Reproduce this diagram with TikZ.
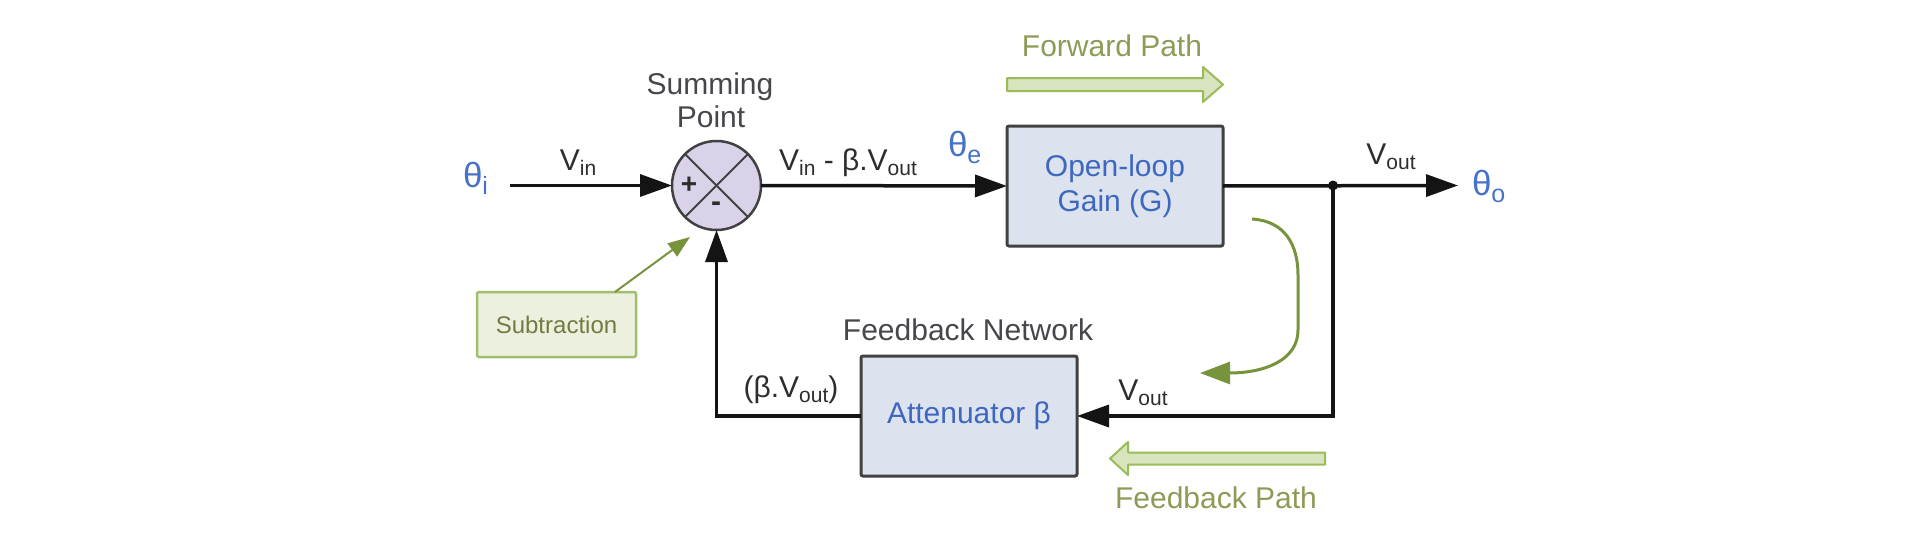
\documentclass[tikz,border=0pt]{standalone}
\usepackage{fontspec}
\setmainfont{Liberation Sans}
\usetikzlibrary{arrows.meta}
\definecolor{linecol}{RGB}{20,20,20}
\definecolor{bordergray}{RGB}{65,65,65}
\definecolor{boxfill}{RGB}{220,227,238}
\definecolor{sumfill}{RGB}{217,210,232}
\definecolor{bluetext}{RGB}{62,104,192}
\definecolor{thetablue}{RGB}{70,115,200}
\definecolor{labelgray}{RGB}{45,45,45}
\definecolor{titlegray}{RGB}{70,70,75}
\definecolor{fatfill}{RGB}{215,228,189}
\definecolor{fatborder}{RGB}{155,187,89}
\definecolor{pathtext}{RGB}{140,155,85}
\definecolor{subfill}{RGB}{235,241,222}
\definecolor{subborder}{RGB}{160,190,110}
\definecolor{subtext}{RGB}{115,122,65}
\definecolor{curvegreen}{RGB}{119,147,60}
\newcommand{\lowsub}[1]{\raisebox{-5pt}{\fontsize{21}{21}\selectfont #1}}
\newcommand{\thsub}[1]{\raisebox{-7pt}{\fontsize{25}{25}\selectfont #1}}
\tikzset{
  every node/.style={inner sep=0pt, outer sep=0pt},
  lbl/.style={anchor=base, text=labelgray, font=\fontsize{30}{34}\selectfont},
  ttl/.style={anchor=base, text=titlegray, font=\fontsize{30}{34}\selectfont},
  thetalbl/.style={anchor=base west, text=thetablue, font=\fontsize{35}{40}\selectfont},
  pathlbl/.style={anchor=base, text=pathtext, font=\fontsize{30}{34}\selectfont},
  blockbox/.style={draw=bordergray, line width=3pt, fill=boxfill, rounded corners=2pt,
    minimum width=216pt, minimum height=120pt, text=bluetext, align=center,
    font=\fontsize{30}{35}\selectfont},
  sumcircle/.style={circle, draw=bordergray, line width=2.5pt, fill=sumfill, minimum size=89pt},
  sig/.style={draw=linecol, line width=3.5pt},
  sigarrow/.style={sig, -{Triangle[length=32pt,width=22pt]}},
  fatarrow/.style={draw=fatborder, line width=2pt, fill=fatfill, line join=round},
  greenarrow/.style={draw=curvegreen, line width=3pt, -{Triangle[length=30pt,width=22pt]}},
  pointer/.style={draw=curvegreen, line width=2pt, -{Triangle[length=22pt,width=16pt]}},
  subbox/.style={draw=subborder, line width=2.5pt, fill=subfill, rounded corners=2pt,
    minimum width=159pt, minimum height=65pt, text=subtext, font=\fontsize{24}{28}\selectfont}
}
\begin{document}
\begin{tikzpicture}[x=1pt,y=-1pt]
\useasboundingbox (0,0) rectangle (1911,543);

% blocks
\node[sumcircle] (sum) at (716.5,185.5) {};
\node[blockbox] (G) at (1115,186) {Open-loop\\Gain (G)};
\node[blockbox] (A) at (969,416) {Attenuator β};
\node[subbox] (sub) at (556.5,324.5) {Subtraction};

% inside of summing point
\draw[draw=bordergray, line width=2pt] (sum.45) -- (sum.225);
\draw[draw=bordergray, line width=2pt] (sum.135) -- (sum.315);
\node[text=labelgray, font=\bfseries\fontsize{28}{28}\selectfont] (plus) at (689,185) {+};
\node[text=labelgray, font=\bfseries\fontsize{30}{30}\selectfont] (minus) at (716,207) {-};

% coordinates
\coordinate (inst) at (510,185.5);
\coordinate (outend) at (1458,185.5);
\coordinate (jn) at (1333,185.5);
\coordinate (subtip) at (690,237);
\coordinate (cs) at (1252,219);
\coordinate (ce) at (1200,373);

% signal lines
\draw[sigarrow] (inst) -- (sum.west);
\draw[sigarrow] (sum.east) -- (G.west);
\draw[sigarrow] (G.east) -- (outend);
\draw[sigarrow] (jn) |- (A.east);
\draw[sigarrow] (A.west) -| (sum.south);
\fill[linecol] (jn) circle (5pt);

% labels
\node[thetalbl] (thi) at (463,187) {θ\thsub{i}};
\node[thetalbl] (the) at (948,156) {θ\thsub{e}};
\node[thetalbl] (tho) at (1472,195) {θ\thsub{o}};
\node[lbl] (vin) at (578,170) {V\lowsub{in}};
\node[lbl] (verr) at (848,170) {V\lowsub{in} - β.V\lowsub{out}};
\node[lbl] (vout1) at (1391,164) {V\lowsub{out}};
\node[lbl] (vout2) at (1143,400) {V\lowsub{out}};
\node[lbl] (bvout) at (791,397) {(β.V\lowsub{out})};
\node[ttl] (sum1) at (710,94) {Summing};
\node[ttl] (sum2) at (711,127) {Point};
\node[ttl] (fbn) at (968,340) {Feedback Network};
\node[pathlbl] (fwdl) at (1112,57) {Forward Path};
\node[pathlbl] (fbpl) at (1216,508) {Feedback Path};

% subtraction pointer
\draw[pointer] ([xshift=58.5pt]sub.north) -- (subtip);

% green curved arrow
\draw[greenarrow] (cs) .. controls (1285,221) and (1298,245) .. (1298,275)
  -- (1298,330) .. controls (1298,360) and (1265,373) .. (ce);

% fat path arrows
\path[fatarrow] (1007,78) -- (1203,78) -- (1203,67) -- (1223,84.5) -- (1203,102)
  -- (1203,91) -- (1007,91) -- cycle;
\path[fatarrow] (1325,452.5) -- (1128,452.5) -- (1128,442) -- (1110,458.5) -- (1128,475)
  -- (1128,464.5) -- (1325,464.5) -- cycle;
\end{tikzpicture}
\end{document}
